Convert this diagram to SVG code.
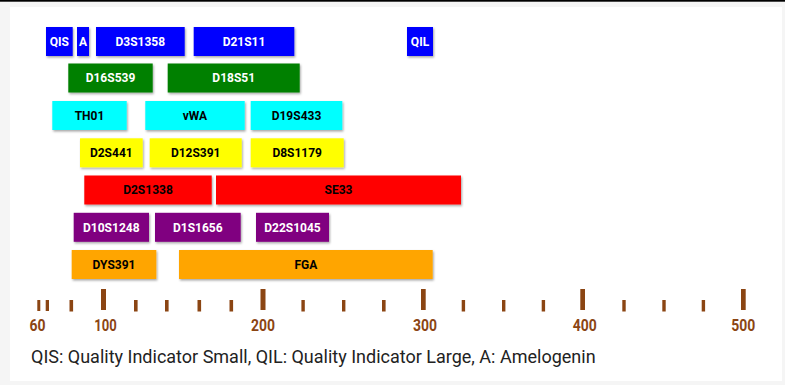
<svg xmlns="http://www.w3.org/2000/svg" width="785" height="385" viewBox="0 0 785 385">
<defs>
<filter id="sh" x="-10%" y="-20%" width="130%" height="160%">
<feDropShadow dx="1" dy="1.5" stdDeviation="0.8" flood-color="#000" flood-opacity="0.35"/>
</filter>
<style>
.b{filter:url(#sh);}
.t{font-family:Roboto,"Liberation Sans",sans-serif;font-weight:bold;font-size:12px;text-anchor:middle;}
.w{fill:#fff;}
.k{fill:#000;}
.tk{fill:#8B4513;}
.ax{font-family:Roboto,"Liberation Sans",sans-serif;font-weight:bold;font-size:16px;fill:#8B4513;text-anchor:middle;}
.lg{font-family:Roboto,"Liberation Sans",sans-serif;font-size:18px;fill:#222;}
</style>
</defs>
<rect x="0" y="0" width="785" height="385" fill="#f5f5f5"/>
<rect x="0" y="0" width="785" height="1.7" fill="#000"/>
<rect x="10" y="7" width="772" height="374" fill="#fff"/>

<g id="QIS"><rect class="b" x="46" y="27" width="26.7" height="29" fill="#0000FF"/><text class="t w" x="59.3" y="45.7">QIS</text></g>
<g id="A"><rect class="b" x="77" y="27" width="12" height="29" fill="#0000FF"/><text class="t w" x="83" y="45.7">A</text></g>
<g id="D3S1358"><rect class="b" x="96" y="27" width="88.7" height="29" fill="#0000FF"/><text class="t w" x="140.3" y="45.7">D3S1358</text></g>
<g id="D21S11"><rect class="b" x="193.7" y="27" width="100.6" height="29" fill="#0000FF"/><text class="t w" x="244" y="45.7">D21S11</text></g>
<g id="QIL"><rect class="b" x="407" y="27" width="26" height="29" fill="#0000FF"/><text class="t w" x="420" y="45.7">QIL</text></g>

<g id="D16S539"><rect class="b" x="68.3" y="63.5" width="84.4" height="29" fill="#008000"/><text class="t w" x="110.5" y="82.2">D16S539</text></g>
<g id="D18S51"><rect class="b" x="167.7" y="63.5" width="132" height="29" fill="#008000"/><text class="t w" x="233.7" y="82.2">D18S51</text></g>

<g id="TH01"><rect class="b" x="52.3" y="101" width="74.4" height="29" fill="#00FFFF"/><text class="t k" x="89.5" y="119.7">TH01</text></g>
<g id="vWA"><rect class="b" x="145.3" y="101" width="99.4" height="29" fill="#00FFFF"/><text class="t k" x="195" y="119.7">vWA</text></g>
<g id="D19S433"><rect class="b" x="250.7" y="101" width="91.6" height="29" fill="#00FFFF"/><text class="t k" x="296.5" y="119.7">D19S433</text></g>

<g id="D2S441"><rect class="b" x="80" y="138.3" width="62.7" height="29" fill="#FFFF00"/><text class="t k" x="111.3" y="157">D2S441</text></g>
<g id="D12S391"><rect class="b" x="149.7" y="138.3" width="92" height="29" fill="#FFFF00"/><text class="t k" x="195.7" y="157">D12S391</text></g>
<g id="D8S1179"><rect class="b" x="250.7" y="138.3" width="93" height="29" fill="#FFFF00"/><text class="t k" x="297.2" y="157">D8S1179</text></g>

<g id="D2S1338"><rect class="b" x="84.3" y="175.5" width="127.4" height="29" fill="#FF0000"/><text class="t k" x="148" y="194.2">D2S1338</text></g>
<g id="SE33"><rect class="b" x="216" y="175.5" width="245" height="29" fill="#FF0000"/><text class="t k" x="338.5" y="194.2">SE33</text></g>

<g id="D10S1248"><rect class="b" x="73.7" y="212.8" width="75.3" height="29" fill="#800080"/><text class="t w" x="111.3" y="231.5">D10S1248</text></g>
<g id="D1S1656"><rect class="b" x="155" y="212.8" width="85.7" height="29" fill="#800080"/><text class="t w" x="197.8" y="231.5">D1S1656</text></g>
<g id="D22S1045"><rect class="b" x="256" y="212.8" width="73" height="29" fill="#800080"/><text class="t w" x="292.5" y="231.5">D22S1045</text></g>

<g id="DYS391"><rect class="b" x="71.7" y="250" width="84.6" height="29" fill="#FFA500"/><text class="t k" x="114" y="268.7">DYS391</text></g>
<g id="FGA"><rect class="b" x="179" y="250" width="253.7" height="29" fill="#FFA500"/><text class="t k" x="305.8" y="268.7">FGA</text></g>

<g id="axis">
<rect class="tk" x="37.3" y="300" width="3" height="11"/>
<rect class="tk" x="45.7" y="300" width="3.3" height="11"/>
<rect class="tk" x="69.5" y="300" width="3.6" height="11.5"/>
<rect class="tk" x="101" y="289" width="5" height="21"/>
<rect class="tk" x="134" y="300" width="3.6" height="11.5"/>
<rect class="tk" x="165" y="300" width="3.6" height="11.5"/>
<rect class="tk" x="197.5" y="300" width="3.6" height="11.5"/>
<rect class="tk" x="229.5" y="300" width="3.6" height="11.5"/>
<rect class="tk" x="260.5" y="289" width="5" height="21"/>
<rect class="tk" x="301.4" y="300" width="3.4" height="11.5"/>
<rect class="tk" x="342" y="300" width="3.4" height="11.5"/>
<rect class="tk" x="382" y="300" width="3.6" height="11.5"/>
<rect class="tk" x="421" y="289" width="4.7" height="21"/>
<rect class="tk" x="461.7" y="300" width="3.4" height="11.5"/>
<rect class="tk" x="502" y="300" width="3.4" height="11.5"/>
<rect class="tk" x="541.7" y="300" width="3.4" height="11.5"/>
<rect class="tk" x="580.3" y="289" width="4.7" height="21"/>
<rect class="tk" x="622.3" y="300" width="3.4" height="11.5"/>
<rect class="tk" x="662.3" y="300" width="3.4" height="11.5"/>
<rect class="tk" x="701.7" y="300" width="3.4" height="11.5"/>
<rect class="tk" x="741" y="289" width="4.7" height="21"/>
<text class="ax" x="37.5" y="331" textLength="16" lengthAdjust="spacingAndGlyphs">60</text>
<text class="ax" x="105.5" y="331" textLength="22.5" lengthAdjust="spacingAndGlyphs">100</text>
<text class="ax" x="263" y="331" textLength="24" lengthAdjust="spacingAndGlyphs">200</text>
<text class="ax" x="425" y="331" textLength="24" lengthAdjust="spacingAndGlyphs">300</text>
<text class="ax" x="584.7" y="331" textLength="24" lengthAdjust="spacingAndGlyphs">400</text>
<text class="ax" x="743.3" y="331" textLength="24" lengthAdjust="spacingAndGlyphs">500</text>
</g>
<text class="lg" x="31" y="363">QIS: Quality Indicator Small, QIL: Quality Indicator Large, A: Amelogenin</text>
</svg>
